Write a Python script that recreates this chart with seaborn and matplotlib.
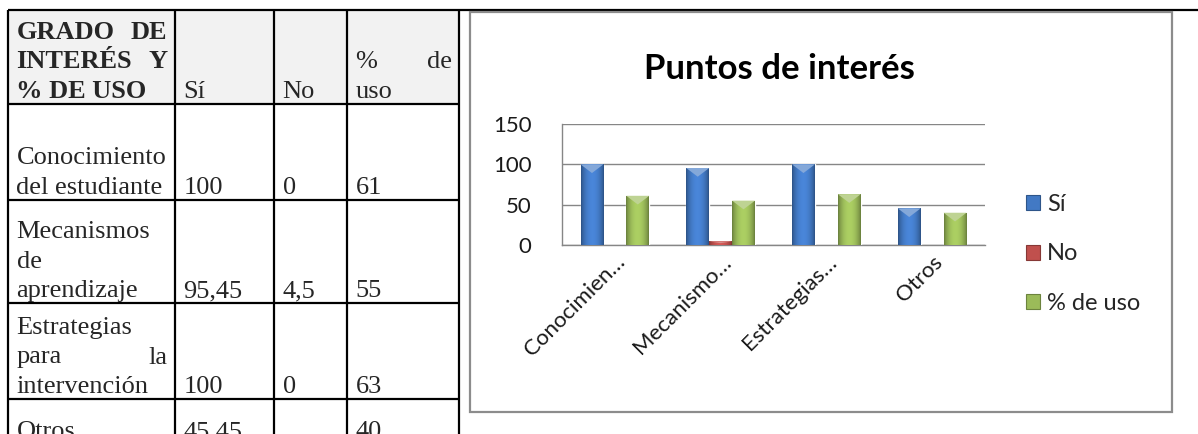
import numpy as np
import pandas as pd
import matplotlib
matplotlib.use("Agg")
import matplotlib.pyplot as plt
from matplotlib.patches import Rectangle, Polygon
import seaborn as sns

# ---------------- data ----------------
categories = ["Conocimiento del estudiante", "Mecanismos de aprendizaje",
              "Estrategias para la intervención", "Otros"]
axis_labels = ["Conocimien…", "Mecanismo…", "Estrategias…", "Otros"]
series_names = ["Sí", "No", "% de uso"]
si_vals = [100, 95.45, 100, 45.45]
no_vals = [0, 4.5, 0, np.nan]
uso_vals = [61, 55, 63, 40]
y_ticks = [0, 50, 100, 150]
chart_title = "Puntos de interés"

# table text, broken into the lines of each cell
header_col1 = ["GRADO DE", "INTERÉS Y", "% DE USO"]
header_cols = [["Sí"], ["No"], ["% de", "uso"]]
row_label_lines = [["Conocimiento", "del estudiante"],
                   ["Mecanismos", "de", "aprendizaje"],
                   ["Estrategias", "para la", "intervención"],
                   ["Otros"]]

palette = {"Sí": "#4279c4", "No": "#c0504d", "% de uso": "#9bbb59"}

# ---------------- figure / page layer ----------------
W, H = 1198, 434
sns.set_style("white")
fig = plt.figure(figsize=(W / 100, H / 100), dpi=100)
bg = fig.add_axes([0, 0, 1, 1])
bg.set_xlim(0, W)
bg.set_ylim(H, 0)
bg.axis("off")

col_x = [8, 175, 274, 347, 459]
row_y = [10, 104, 200, 303, 399, 444]
line_step = 29.5
serif = "Liberation Serif"
tfs = 19
lw_tab = 1.6

# header shading
bg.add_patch(Rectangle((col_x[0], row_y[0]), col_x[-1] - col_x[0], row_y[1] - row_y[0],
                       fc="#f2f2f2", ec="none", zorder=0))
# table rules
bg.plot([col_x[0], W], [row_y[0], row_y[0]], color="black", lw=lw_tab, solid_capstyle="butt", zorder=2)
for x in col_x:
    bg.plot([x, x], [row_y[0], H], color="black", lw=lw_tab, solid_capstyle="butt", zorder=2)
for y in row_y[1:5]:
    bg.plot([col_x[0], col_x[-1]], [y, y], color="black", lw=lw_tab, solid_capstyle="butt", zorder=2)


def put_cell(lines, col, row, bold=False):
    x_left = col_x[col] + 8.5
    x_right = col_x[col + 1] - 7.5
    bottom = row_y[row + 1] - 6
    n = len(lines)
    for i, line in enumerate(lines):
        y = bottom - (n - 1 - i) * line_step
        words = line.split(" ")
        kw = dict(fontsize=tfs, family=serif, va="baseline",
                  fontweight="bold" if bold else "normal", zorder=3)
        if i < n - 1 and len(words) == 2:
            bg.text(x_left, y, words[0], ha="left", **kw)
            bg.text(x_right, y, words[1], ha="right", **kw)
        else:
            bg.text(x_left, y, line, ha="left", **kw)


def fmt(v):
    return "" if not np.isfinite(v) else f"{v:g}".replace(".", ",")


put_cell(header_col1, 0, 0, bold=True)
for c, lines in enumerate(header_cols):
    put_cell(lines, c + 1, 0)
for r, lines in enumerate(row_label_lines):
    put_cell(lines, 0, r + 1)
    put_cell([fmt(si_vals[r])], 1, r + 1)
    put_cell([fmt(no_vals[r])], 2, r + 1)
    put_cell([fmt(uso_vals[r])], 3, r + 1)

# chart frame and title
bg.add_patch(Rectangle((470, 12), 702, 400, fill=False, ec="#8c8c8c", lw=1.6, zorder=2))
bg.text(779, 79, chart_title, ha="center", va="baseline", fontsize=25,
        fontweight="bold", family="Lato", color="black")

# ---------------- chart ----------------
px0, px1, py0, py1 = 562, 985, 124, 245
ax = fig.add_axes([px0 / W, 1 - py1 / H, (px1 - px0) / W, (py1 - py0) / H])

records = []
for i, cat in enumerate(axis_labels):
    for s, vals in zip(series_names, [si_vals, no_vals, uso_vals]):
        records.append({"categoria": cat, "serie": s, "valor": vals[i]})
df = pd.DataFrame(records)

sns.barplot(data=df, x="categoria", y="valor", hue="serie", order=axis_labels,
            hue_order=series_names, palette=palette, width=0.65, saturation=1,
            errorbar=None, legend=False, ax=ax, zorder=3)

ymax = y_ticks[-1]
ax.set_ylim(0, ymax)
ax.set_xlim(-0.5, len(axis_labels) - 0.5)
px_per_unit = (py1 - py0) / ymax
px_per_x = (px1 - px0) / len(axis_labels)

# shaded, bevelled look for each bar
t = np.linspace(0, 1, 64)
shade = 0.66 + 0.45 * np.sin(np.pi * t) ** 0.7
for p in list(ax.patches):
    h = p.get_height()
    if not np.isfinite(h) or h <= 0:
        continue
    x0, w = p.get_x(), p.get_width()
    base = np.array(matplotlib.colors.to_rgb(p.get_facecolor()))
    grad = np.clip(base[None, :] * shade[:, None], 0, 1)[None, :, :]
    im = ax.imshow(grad, extent=[x0, x0 + w, 0, h], aspect="auto",
                   interpolation="bilinear", zorder=3.1)
    im.set_clip_path(p)
    depth_px = min(0.38 * w * px_per_x, 0.5 * h * px_per_unit)
    light = base + (1 - base) * 0.35
    ax.add_patch(Polygon([(x0, h), (x0 + w, h), (x0 + w / 2, h - depth_px / px_per_unit)],
                         closed=True, fc=light, ec="none", zorder=3.2))

ax.set_ylim(0, ymax)
ax.set_xlim(-0.5, len(axis_labels) - 0.5)
ax.set_yticks(y_ticks)
ax.yaxis.grid(True, color="#868686", lw=1)
ax.xaxis.grid(False)
ax.set_axisbelow(True)
for side in ["top", "right"]:
    ax.spines[side].set_visible(False)
for side in ["left", "bottom"]:
    ax.spines[side].set_color("#868686")
    ax.spines[side].set_linewidth(1)
ax.set_xlabel("")
ax.set_ylabel("")
ax.tick_params(axis="y", length=0, pad=22, labelsize=16, labelcolor="#1a1a1a")
ax.tick_params(axis="x", length=0, pad=5, labelsize=16, labelcolor="#1a1a1a")
ax.set_xticks(range(len(axis_labels)))
ax.set_xticklabels(axis_labels, rotation=45, ha="right", va="top", rotation_mode="anchor")
for lab in ax.get_xticklabels() + ax.get_yticklabels():
    lab.set_family("Lato")

handles = [Rectangle((0, 0), 1, 1, fc=palette[s],
                     ec=np.clip(np.array(matplotlib.colors.to_rgb(palette[s])) * 0.7, 0, 1), lw=0.8)
           for s in series_names]
leg = fig.legend(handles, series_names, loc="upper left", bbox_to_anchor=(1026 / W, 1 - 194 / H),
                 frameon=False, prop={"family": "Lato", "size": 17}, handlelength=0.6,
                 handleheight=0.6, handletextpad=0.3, labelspacing=1.2, borderaxespad=0,
                 borderpad=0)

fig.savefig("out.png", dpi=100)
